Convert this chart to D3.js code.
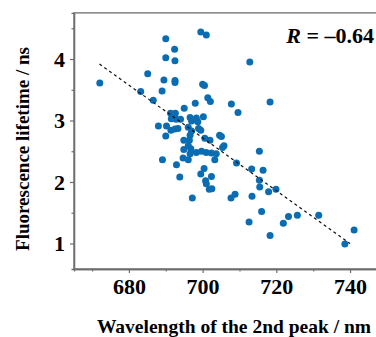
<!DOCTYPE html>
<html>
<head>
<meta charset="utf-8">
<script src="https://cdn.jsdelivr.net/npm/d3@7"></script>
<style>
  html, body { margin: 0; padding: 0; background: #fff; }
  svg { display: block; }
  text { font-family: "Liberation Serif", "Times New Roman", serif; font-weight: bold; fill: #000; }
</style>
</head>
<body>
<svg id="chart" width="376" height="337"></svg>
<script>
// peak wavelength (nm) and fluorescence lifetime (ns) per sample
const wavelength = [
  672.1, 685.1, 683.2, 686.6, 690.0, 692.4, 690.0, 692.5, 689.5, 692.5,
  692.5, 689.0, 699.5, 701.0, 700.0, 700.5, 701.4, 702.1, 695.0, 698.0,
  707.8, 709.6, 712.8, 718.3, 691.3, 692.6, 691.5, 692.8, 694.0, 696.6,
  698.3, 697.0, 698.7, 700.2, 688.0, 690.2, 691.4, 692.5, 693.3, 696.1,
  698.9, 697.0, 696.6, 699.5, 690.0, 700.6, 702.0, 704.6, 705.1, 705.8,
  705.4, 694.9, 696.4, 696.1, 696.8, 694.9, 698.3, 699.7, 701.0, 702.4,
  703.7, 694.7, 696.6, 696.1, 689.1, 692.9, 703.3, 709.2, 715.4, 713.3,
  716.4, 700.4, 699.5, 702.4, 700.8, 701.0, 693.8, 701.8, 702.5, 697.2,
  708.8, 707.7, 713.4, 715.4, 715.5, 717.9, 719.9, 716.0, 712.6, 721.9,
  723.3, 725.7, 731.5, 718.3, 741.1, 738.6
]
const lifetime = [
  3.61, 3.76, 3.47, 3.33, 4.33, 4.16, 4.02, 3.97, 3.66, 3.65,
  3.62, 3.48, 4.44, 4.39, 3.59, 3.57, 3.37, 3.31, 3.20, 3.28,
  3.27, 3.13, 3.95, 3.30, 3.12, 3.12, 3.03, 3.02, 3.02, 3.05,
  3.04, 2.99, 2.98, 3.06, 2.91, 2.91, 2.84, 2.86, 2.87, 2.89,
  2.87, 2.83, 2.76, 2.84, 2.75, 2.71, 2.68, 2.76, 2.74, 2.59,
  2.56, 2.68, 2.68, 2.59, 2.54, 2.53, 2.48, 2.50, 2.48, 2.47,
  2.46, 2.39, 2.46, 2.36, 2.36, 2.28, 2.36, 2.31, 2.50, 2.21,
  2.19, 2.22, 2.13, 2.09, 2.02, 1.97, 2.08, 1.88, 1.89, 1.74,
  1.80, 1.74, 1.77, 2.03, 1.92, 1.84, 1.88, 1.52, 1.35, 1.33,
  1.44, 1.46, 1.46, 1.13, 1.22, 0.99
]

// linear fit end points
const fitX = [672, 740]
const fitY = [3.92, 1.0]

const xTicks = [680, 700, 720, 740]
const xMinor = [670, 690, 710, 730, 750]
const yTicks = [1, 2, 3, 4]
const yMinor = [1.5, 2.5, 3.5, 4.5]

const rLabel = "–0.64"

const svg = d3.select("#chart")

const x = d3.scaleLinear().domain([665.1, 750]).range([74, 386.9])
const y = d3.scaleLinear().domain([0.585, 4.75]).range([269, 12.9])

const axisColor = "#6e6e6e"

// frame (top and right are part of the box)
svg.append("rect")
  .attr("x", x.range()[0])
  .attr("y", y.range()[1])
  .attr("width", x.range()[1] - x.range()[0])
  .attr("height", y.range()[0] - y.range()[1])
  .attr("fill", "none")
  .attr("stroke", axisColor)
  .attr("stroke-width", 1.3)

// x axis
const xAxis = svg.append("g").attr("transform", `translate(0,${y.range()[0]})`)
xAxis.call(d3.axisBottom(x).tickValues(xTicks).tickSize(4).tickSizeOuter(0).tickPadding(5))
xAxis.append("g").call(d3.axisBottom(x).tickValues(xMinor).tickSize(2.5).tickFormat(""))
xAxis.selectAll(".domain").attr("stroke", axisColor).attr("stroke-width", 1.3)
xAxis.selectAll(".tick line").attr("stroke", axisColor).attr("stroke-width", 1.2)
xAxis.selectAll(".tick text").attr("font-size", 22).attr("font-family", null).attr("fill", "#000")

// y axis
const yAxis = svg.append("g").attr("transform", `translate(${x.range()[0]},0)`)
yAxis.call(d3.axisLeft(y).tickValues(yTicks).tickFormat(d3.format("d")).tickSize(4).tickSizeOuter(0).tickPadding(5))
yAxis.append("g").call(d3.axisLeft(y).tickValues(yMinor).tickSize(2.5).tickFormat(""))
yAxis.selectAll(".domain").attr("stroke", axisColor).attr("stroke-width", 1.3)
yAxis.selectAll(".tick line").attr("stroke", axisColor).attr("stroke-width", 1.2)
yAxis.selectAll(".tick text").attr("font-size", 22).attr("font-family", null).attr("fill", "#000")

// data points
svg.append("g")
  .selectAll("circle")
  .data(wavelength)
  .enter()
  .append("circle")
  .attr("cx", (d) => x(d))
  .attr("cy", (d, i) => y(lifetime[i]))
  .attr("r", 3.5)
  .attr("fill", "#0a6db3")

// dashed regression line
svg.append("line")
  .attr("x1", x(fitX[0]))
  .attr("y1", y(fitY[0]))
  .attr("x2", x(fitX[1]))
  .attr("y2", y(fitY[1]))
  .attr("stroke", "#111")
  .attr("stroke-width", 1.2)
  .attr("stroke-dasharray", "3,3")

// correlation label
const r = svg.append("text")
  .attr("x", 374)
  .attr("y", 43)
  .attr("text-anchor", "end")
  .attr("font-size", 22)
r.append("tspan").attr("font-style", "italic").text("R")
r.append("tspan").text(" = " + rLabel)

// axis titles
svg.append("text")
  .attr("x", 234)
  .attr("y", 333)
  .attr("text-anchor", "middle")
  .attr("font-size", 19.5)
  .text("Wavelength of the 2nd peak / nm")

svg.append("text")
  .attr("transform", "translate(29,149) rotate(-90)")
  .attr("text-anchor", "middle")
  .attr("font-size", 19)
  .text("Fluorescence lifetime / ns")
</script>
</body>
</html>
